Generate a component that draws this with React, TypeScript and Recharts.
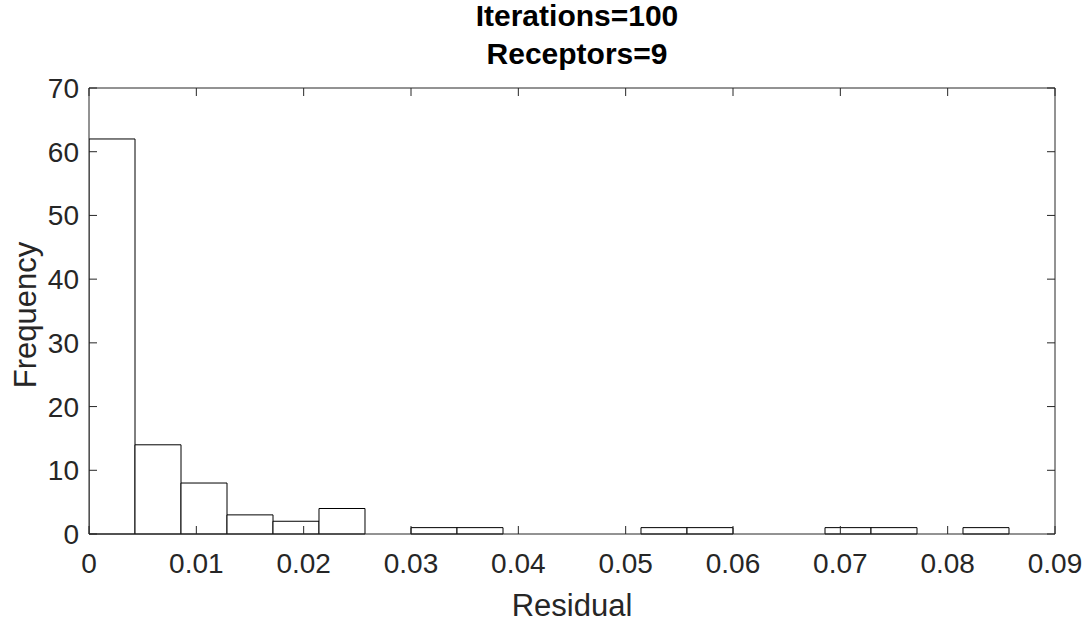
import React from "react";
import {
  ComposedChart,
  Bar,
  XAxis,
  YAxis,
} from "recharts";

// histogram bins (centres), bin width ~0.004286
const binCenters = [
  0.002143, 0.006429, 0.010714, 0.015, 0.019286, 0.023571, 0.027857,
  0.032143, 0.036429, 0.040714, 0.045, 0.049286, 0.053571, 0.057857,
  0.062143, 0.066429, 0.070714, 0.075, 0.079286, 0.083571,
];
const counts = [62, 14, 8, 3, 2, 4, 0, 1, 1, 0, 0, 0, 1, 1, 0, 0, 1, 1, 0, 1];

const xTicks = [0, 0.01, 0.02, 0.03, 0.04, 0.05, 0.06, 0.07, 0.08, 0.09];
const yTicks = [0, 10, 20, 30, 40, 50, 60, 70];

const titleLines = ["Iterations=100", "Receptors=9"];

const data = binCenters.map((c, i) => ({ x: c, count: counts[i] }));

const FONT = "'Liberation Sans', Arial, Helvetica, sans-serif";
const AXIS = "#262626";
const PLOT_TOP = 88;

// box axes only need tick marks, no labels
const NoLabel = () => <g />;

// bottom tick label, plus the matching inward tick on the top edge of the box
const BottomTick = (p: any) => (
  <g>
    <text
      x={p.x}
      y={p.y}
      dy="0.71em"
      textAnchor="middle"
      fontSize={28}
      fontFamily={FONT}
      fill={AXIS}
    >
      {String(p.payload.value)}
    </text>
    <line x1={p.x} x2={p.x} y1={PLOT_TOP} y2={PLOT_TOP + 8} stroke={AXIS} strokeWidth={1} />
  </g>
);

export default function App() {
  return (
    <div style={{ position: "relative", width: 1092, height: 623, background: "#fff" }}>
      <style>{`body{margin:0;background:#fff}`}</style>
      <div
        style={{
          position: "absolute",
          left: 0,
          top: -3,
          width: 1154,
          textAlign: "center",
          fontFamily: FONT,
          fontWeight: "bold",
          fontSize: 30,
          lineHeight: "38px",
          color: "#000",
        }}
      >
        {titleLines.map((t) => (
          <div key={t}>{t}</div>
        ))}
      </div>
      <ComposedChart
        width={1092}
        height={623}
        data={data}
        margin={{ top: PLOT_TOP - 1, right: 16, left: 0, bottom: 0 }}
        barCategoryGap={0}
        barGap={0}
        style={{ position: "absolute", left: 0, top: 0 }}
      >
        <XAxis
          xAxisId="bottom"
          dataKey="x"
          type="number"
          domain={[0, 0.09]}
          ticks={xTicks}
          interval={0}
          allowDataOverflow
          height={89}
          tickSize={-8}
          tickMargin={27}
          stroke={AXIS}
          tick={BottomTick}
          label={{
            content: (p: any) => {
              const vb = p.viewBox;
              return (
                <text
                  x={vb.x + vb.width / 2}
                  y={vb.y + 82}
                  textAnchor="middle"
                  fontSize={31}
                  fontFamily={FONT}
                  fill={AXIS}
                >
                  Residual
                </text>
              );
            },
          }}
        />
        <XAxis
          xAxisId="top"
          dataKey="x"
          type="number"
          orientation="top"
          domain={[0, 0.09]}
          ticks={xTicks}
          interval={0}
          allowDataOverflow
          height={1}
          tickSize={0}
          tickMargin={0}
          tickLine={false}
          stroke={AXIS}
          tick={NoLabel}
        />
        <YAxis
          yAxisId="left"
          domain={[0, 70]}
          ticks={yTicks}
          interval={0}
          width={89}
          tickSize={-8}
          tickMargin={18}
          stroke={AXIS}
          tick={{ fontSize: 28, fill: AXIS, fontFamily: FONT }}
          label={{
            content: (p: any) => {
              const vb = p.viewBox;
              const cy = vb.y + vb.height / 2 + 4;
              return (
                <text
                  x={36}
                  y={cy}
                  transform={`rotate(-90, 36, ${cy})`}
                  textAnchor="middle"
                  fontSize={31}
                  fontFamily={FONT}
                  fill={AXIS}
                >
                  Frequency
                </text>
              );
            },
          }}
        />
        <YAxis
          yAxisId="right"
          orientation="right"
          domain={[0, 70]}
          ticks={yTicks}
          interval={0}
          allowDataOverflow
          width={21}
          tickSize={-8}
          tickMargin={0}
          stroke={AXIS}
          tick={NoLabel}
        />
        <Bar
          xAxisId="bottom"
          yAxisId="left"
          dataKey="count"
          fill="#ffffff"
          stroke="#000000"
          strokeWidth={1}
          isAnimationActive={false}
        />
        {/* invisible copy so the box axes (top/right) get their ticks */}
        <Bar
          xAxisId="top"
          yAxisId="right"
          dataKey="count"
          fill="none"
          stroke="none"
          legendType="none"
          isAnimationActive={false}
        />
      </ComposedChart>
    </div>
  );
}
